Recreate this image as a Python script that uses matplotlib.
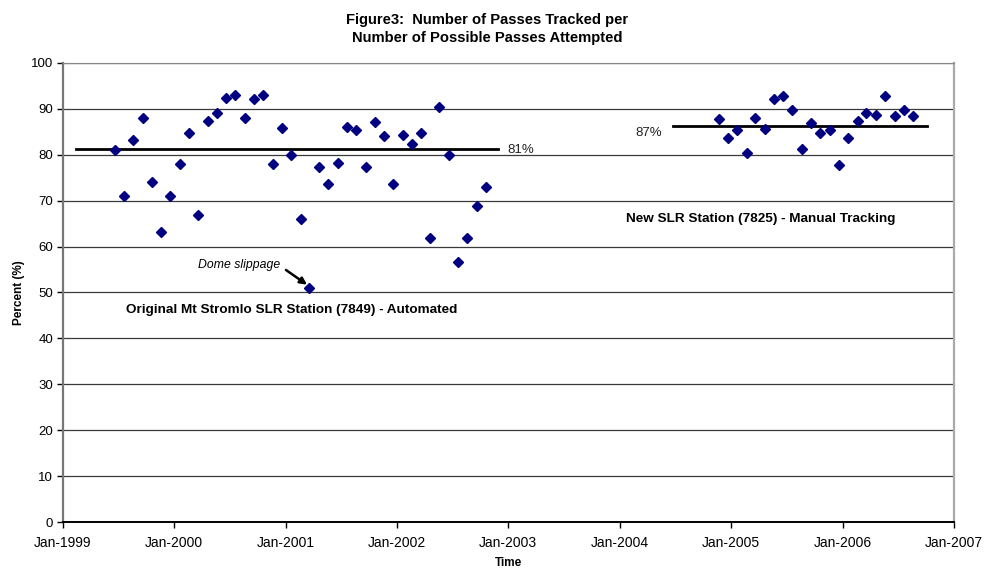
import datetime as dt
import matplotlib
matplotlib.use("Agg")
import matplotlib.pyplot as plt
import matplotlib.dates as mdates

plt.rcParams['font.family'] = ['Liberation Sans', 'DejaVu Sans']

# monthly results, original station (Jun 1999 - Oct 2002)
old_start = (1999, 6)
old_pct = [81.0, 71.1, 83.1, 88.0, 74.0, 63.1, 71.1, 77.9, 84.6, 66.9,
           87.3, 89.0, 92.3, 93.0, 88.0, 92.1, 93.0, 77.9, 85.8, 79.9,
           66.1, 51.0, 77.4, 73.7, 78.2, 86.1, 85.4, 77.4, 87.0, 84.1,
           73.7, 84.3, 82.4, 84.7, 61.9, 90.4, 79.9, 56.7, 61.9, 68.8,
           73.0]

# monthly results, new station (Nov 2004 - Aug 2006)
new_start = (2004, 11)
new_pct = [87.8, 83.6, 85.3, 80.4, 88.0, 85.6, 92.1, 92.7, 89.8, 81.2,
           86.9, 84.6, 85.3, 77.7, 83.6, 87.3, 89.0, 88.6, 92.7, 88.4,
           89.8, 88.4]

# average lines: level, start, end, label
old_mean = 81.2
old_mean_span = (dt.date(1999, 2, 15), dt.date(2002, 11, 28))
old_mean_label = "81%"
new_mean = 86.2
new_mean_span = (dt.date(2004, 6, 25), dt.date(2006, 10, 3))
new_mean_label = "87%"

years = list(range(1999, 2008))


def monthly_dates(start, n):
    y, m = start
    out = []
    for i in range(n):
        mm = m - 1 + i
        out.append(dt.date(y + mm // 12, mm % 12 + 1, 20))
    return out


old_dates = monthly_dates(old_start, len(old_pct))
new_dates = monthly_dates(new_start, len(new_pct))

fig = plt.figure(figsize=(9.84, 5.68), dpi=100)
ax = fig.add_axes([0.0637, 0.0805, 0.9058, 0.8091])

ax.plot(old_dates, old_pct, 'D', color='#000080', markersize=5.3, zorder=3)
ax.plot(new_dates, new_pct, 'D', color='#000080', markersize=5.3, zorder=3)

ax.plot(old_mean_span, [old_mean, old_mean], color='black', lw=2, zorder=2)
ax.plot(new_mean_span, [new_mean, new_mean], color='black', lw=2, zorder=2)
ax.text(dt.date(2002, 12, 28), old_mean - 0.2, old_mean_label, fontsize=9.5,
        ha='left', va='center', color='#222222')
ax.text(dt.date(2004, 5, 20), new_mean - 1.4, new_mean_label, fontsize=9.5,
        ha='right', va='center', color='#222222')

# "Dome slippage" note with its arrow
ax.text(dt.date(2000, 8, 3), 56.0, "Dome slippage", fontsize=8.8,
        style='italic', ha='center', va='center')
ax.annotate("", xy=(dt.date(2001, 3, 12), 51.7),
            xytext=(dt.date(2001, 1, 2), 54.9),
            arrowprops=dict(arrowstyle='-|>', color='black', lw=1.8,
                            shrinkA=0, shrinkB=0, mutation_scale=10))

ax.text(dt.date(2001, 1, 22), 46.2,
        "Original Mt Stromlo SLR Station (7849) - Automated",
        fontsize=9.7, fontweight='bold', ha='center', va='center')
ax.text(dt.date(2005, 4, 8), 66.0,
        "New SLR Station (7825) - Manual Tracking",
        fontsize=9.7, fontweight='bold', ha='center', va='center')

ax.set_xlim(dt.date(1999, 1, 1), dt.date(2007, 1, 1))
ax.set_ylim(0, 100)
ax.set_xticks([dt.date(y, 1, 1) for y in years])
ax.xaxis.set_major_formatter(mdates.DateFormatter('%b-%Y'))
ax.set_yticks(range(0, 101, 10))

ax.yaxis.grid(True, color='#3a3a3a', lw=0.9)
ax.set_axisbelow(True)
ax.tick_params(direction='out', length=4, width=1, colors='black')
ax.tick_params(axis='x', labelsize=10, pad=6)
ax.tick_params(axis='y', labelsize=9.5, pad=3)

ax.spines['left'].set_color('#777777')
ax.spines['left'].set_linewidth(1.6)
ax.spines['bottom'].set_color('black')
ax.spines['bottom'].set_linewidth(1.4)
ax.spines['top'].set_color('#888888')
ax.spines['right'].set_color('#aaaaaa')
ax.spines['right'].set_linewidth(1.6)

ax.set_xlabel("Time", fontsize=8.5, fontweight='bold', labelpad=5)
ax.set_ylabel("Percent (%)", fontsize=8.5, fontweight='bold', labelpad=4)

fig.text(0.495, 0.949, "Figure3:  Number of Passes Tracked per\n"
         "Number of Possible Passes Attempted",
         ha='center', va='center', fontsize=10.6, fontweight='bold',
         linespacing=1.35)

fig.savefig("out.png", dpi=100)
